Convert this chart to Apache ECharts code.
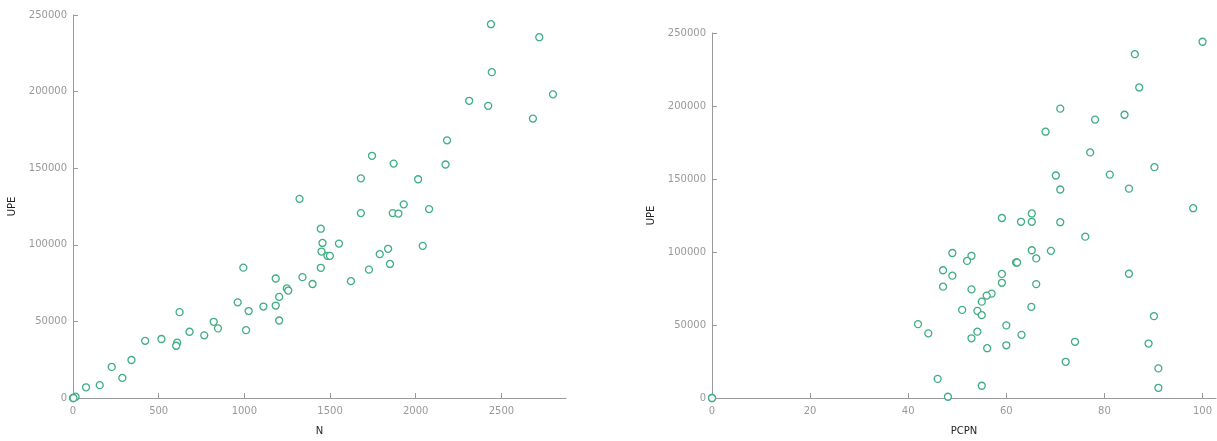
<!DOCTYPE html>
<html>
<head>
<meta charset="utf-8">
<script src="https://cdn.jsdelivr.net/npm/echarts@6/dist/echarts.min.js"></script>
<style>
html,body{margin:0;padding:0;background:#fff;}
#c{width:1217px;height:441px;}
</style>
</head>
<body>
<div id="c"></div>
<script>
const UPE  = [244000,235500,212700,198200,194000,190700,182400,168200,158100,153000,152400,143400,142800,130000,126400,123300,120700,120700,120400,110500,101200,100800,99300,97400,95600,93900,92800,92800,87500,85100,85000,83800,78900,78000,76250,74400,71500,70150,66000,62450,60350,59700,56750,56050,50600,49750,45450,44300,43250,40900,38500,37300,36100,34100,24800,20300,13100,8400,7000,850,0,0];
const N    = [2439,2721,2444,2801,2312,2423,2684,2183,1745,1871,2174,1680,2014,1322,1930,2078,1680,1866,1899,1446,1456,1552,2041,1839,1450,1790,1485,1499,1850,994,1446,1727,1339,1183,1622,1398,1248,1256,1203,961,1183,1111,1025,622,1203,821,846,1010,680,766,516,421,608,602,341,226,288,156,76,15,0,3];
const PCPN = [100,86.2,87.1,71,84.1,78.1,68,77.1,90.2,81.1,70.1,85,71,98.1,65.2,59.1,63,65.2,71,76.1,65.2,69.1,49,52.9,66.1,52,62,62.2,47.1,85,59.1,49,59.1,66.1,47.1,52.9,57,56,55,65.1,51,54.1,55,90.1,42,60,54.1,44.1,63.1,52.9,74,89,60,56.1,72.1,91,46,55,91,48.1,0,0];
const nTicks = [0,500,1000,1500,2000,2500];
const pTicks = [0,20,40,60,80,100];

const ptColor = '#3fae82';
const font = 'DejaVu Sans, Verdana, sans-serif';
const plain = v => String(v);

function xAxis(idx, name, max, ticks){
  return {
    type:'value', gridIndex:idx, name:name, nameLocation:'middle', nameGap:28,
    nameTextStyle:{color:'#222', fontSize:10, fontFamily:font},
    min:0, max:max,
    axisLine:{show:true, onZero:false, lineStyle:{color:'#999', width:1}},
    axisTick:{show:true, inside:true, length:5, customValues:ticks, lineStyle:{color:'#999'}},
    axisLabel:{color:'#999', fontSize:10, fontFamily:font, margin:8, customValues:ticks, formatter:plain},
    splitLine:{show:false}
  };
}
function yAxis(idx){
  return {
    type:'value', gridIndex:idx, name:'UPE', nameLocation:'middle', nameGap:56,
    nameTextStyle:{color:'#222', fontSize:10, fontFamily:font},
    min:0, max:250000, interval:50000,
    axisLine:{show:true, lineStyle:{color:'#999', width:1}},
    axisTick:{show:true, inside:true, length:5, lineStyle:{color:'#999'}},
    axisLabel:{color:'#999', fontSize:10, fontFamily:font, margin:6, formatter:plain},
    splitLine:{show:false}
  };
}

const leftData = N.map((v,i)=>[v, UPE[i]]);
const rightData = PCPN.map((v,i)=>[v, UPE[i]]);

const chart = echarts.init(document.getElementById('c'), null, {renderer:'canvas'});
chart.setOption({
  animation:false,
  backgroundColor:'#fff',
  grid:[
    {left:73, top:15, width:493, height:384},
    {left:712, top:33, width:504, height:370}
  ],
  xAxis:[xAxis(0,'N',2877,nTicks), xAxis(1,'PCPN',102.75,pTicks)],
  yAxis:[yAxis(0), yAxis(1)],
  series:[
    {type:'scatter', xAxisIndex:0, yAxisIndex:0, data:leftData, symbol:'circle', symbolSize:7,
     itemStyle:{color:'#fff', borderColor:ptColor, borderWidth:1.3, opacity:1}},
    {type:'scatter', xAxisIndex:1, yAxisIndex:1, data:rightData, symbol:'circle', symbolSize:7,
     itemStyle:{color:'#fff', borderColor:ptColor, borderWidth:1.3, opacity:1}}
  ]
});
</script>
</body>
</html>
